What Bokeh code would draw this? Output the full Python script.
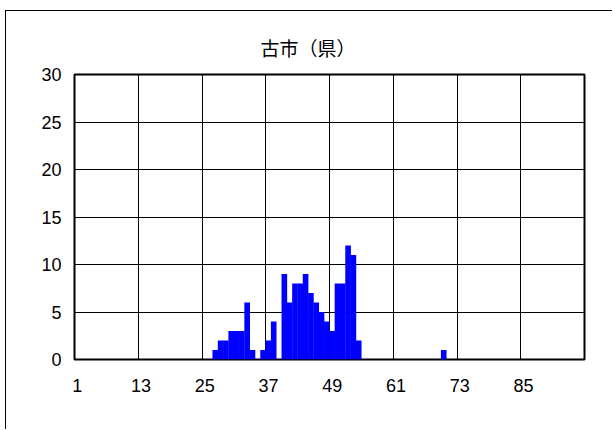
from bokeh.plotting import figure
from bokeh.models import FixedTicker, ColumnDataSource, CDSView, BooleanFilter
from bokeh.embed import file_html
from bokeh.resources import INLINE

title_text = "古市（県）"
categories = list(range(1, 97))
counts = [
    0, 0, 0, 0, 0, 0, 0, 0, 0, 0, 0, 0,
    0, 0, 0, 0, 0, 0, 0, 0, 0, 0, 0, 0,
    0, 0, 1, 2, 2, 3, 3, 3, 6, 1, 0, 1,
    2, 4, 0, 9, 6, 8, 8, 9, 7, 6, 5, 4,
    3, 8, 8, 12, 11, 2, 0, 0, 0, 0, 0, 0,
    0, 0, 0, 0, 0, 0, 0, 0, 0, 1, 0, 0,
    0, 0, 0, 0, 0, 0, 0, 0, 0, 0, 0, 0,
    0, 0, 0, 0, 0, 0, 0, 0, 0, 0, 0, 0,
]
x_tick_labels = [1, 13, 25, 37, 49, 61, 73, 85]
y_ticks = [0, 5, 10, 15, 20, 25, 30]

src = ColumnDataSource(dict(x=categories, y=counts))
view = CDSView(filter=BooleanFilter([c > 0 for c in counts]))

p = figure(width=607, height=419, x_range=(0.5, 96.5), y_range=(0, 30),
           output_backend="svg", toolbar_location=None,
           min_border_left=68, min_border_right=29, min_border_top=63, min_border_bottom=71,
           title=title_text)
p.styles = {"margin-left": "5px", "margin-top": "10px",
            "border-left": "1px solid #000000", "border-top": "1px solid #000000"}

p.vbar(x="x", top="y", width=1.06, source=src, view=view,
       fill_color="#0000FF", line_color=None)

p.title.align = "left"
p.title.offset = 186
p.title.text_font = "Noto Sans CJK JP"
p.title.text_font_size = "19px"
p.title.text_font_style = "normal"
p.title.text_color = "black"
p.title.standoff = 28

p.outline_line_color = "black"
p.outline_line_width = 2
p.outline_line_alpha = 1

p.xaxis.ticker = FixedTicker(ticks=x_tick_labels)
p.yaxis.ticker = FixedTicker(ticks=y_ticks)
p.xgrid.ticker = FixedTicker(ticks=[t - 0.5 for t in x_tick_labels[1:]])
p.ygrid.ticker = FixedTicker(ticks=y_ticks[1:-1])
p.grid.grid_line_color = "black"
p.grid.grid_line_width = 1
p.grid.grid_line_alpha = 1

for ax in (p.xaxis, p.yaxis):
    ax.axis_line_color = None
    ax.major_tick_line_color = None
    ax.minor_tick_line_color = None
    ax.major_tick_out = 0
    ax.major_tick_in = 0
    ax.minor_tick_out = 0
    ax.major_label_text_font = "Liberation Sans"
    ax.major_label_text_font_size = "18px"
    ax.major_label_text_color = "black"
p.xaxis.major_label_standoff = 19
p.yaxis.major_label_standoff = 13

open("out.html", "w").write(file_html(p, INLINE))
